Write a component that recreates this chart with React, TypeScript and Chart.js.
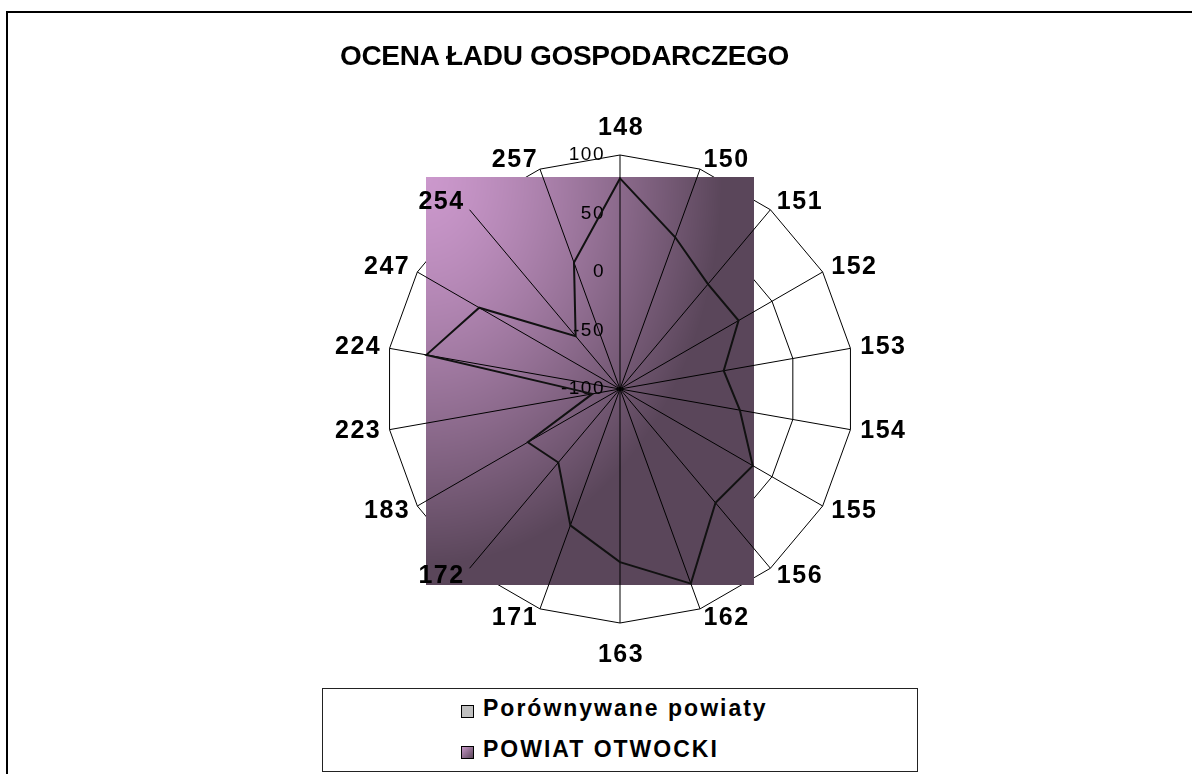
import React, { useEffect, useRef } from "react";
import { Chart, registerables } from "chart.js";

Chart.register(...registerables);

const title = "OCENA ŁADU GOSPODARCZEGO";
const categories = ["148", "150", "151", "152", "153", "154", "155", "156", "162", "163", "171", "172", "183", "223", "224", "247", "254", "257"];
const seriesNames = ["Porównywane powiaty", "POWIAT OTWOCKI"];
const comparedValues = [-100, -100, -100, -100, -100, -100, -100, -100, -100, -100, -100, -100, -100, -100, -100, -100, -100, -100];
const otwockValues = [80, 38, 17, 17, -10, 4, 31, 27, 77, 48, 24, -18, -9, -76, 68, 39, -41, 15];
const tickValues = [-100, -50, 0, 50, 100];

const FONT = '"Liberation Sans", Arial, Helvetica, sans-serif';

let bgCache: HTMLCanvasElement | null = null;
function makeBackground(w: number, h: number): HTMLCanvasElement {
  const c = document.createElement("canvas");
  c.width = w;
  c.height = h;
  const g = c.getContext("2d")!;
  const img = g.createImageData(w, h);
  const L = [203, 152, 204];
  const D = [90, 70, 90];
  for (let y = 0; y < h; y++) {
    for (let x = 0; x < w; x++) {
      const u = x / w / 0.9;
      const v = y / h / 0.95;
      let t = Math.min(1, Math.sqrt(u * u + v * v));
      t = Math.pow(t, 1.35);
      const k = (y * w + x) * 4;
      img.data[k] = L[0] + (D[0] - L[0]) * t;
      img.data[k + 1] = L[1] + (D[1] - L[1]) * t;
      img.data[k + 2] = L[2] + (D[2] - L[2]) * t;
      img.data[k + 3] = 255;
    }
  }
  g.putImageData(img, 0, 0);
  return c;
}

const plotPlugin = {
  id: "plotAreaDecor",
  beforeDatasetsDraw(chart: any) {
    const ctx = chart.ctx as CanvasRenderingContext2D;
    const r = chart.scales.r;
    const x0 = 426, y0 = 177, w = 328, h = 408;
    if (!bgCache) bgCache = makeBackground(w, h);
    ctx.save();
    ctx.drawImage(bgCache, x0, y0);

    // spokes
    ctx.strokeStyle = "#000";
    ctx.lineWidth = 1;
    categories.forEach((_, i) => {
      const p = r.getPointPosition(i, r.drawingArea);
      ctx.beginPath();
      ctx.moveTo(r.xCenter, r.yCenter);
      ctx.lineTo(p.x, p.y);
      ctx.stroke();
    });

    // tick labels
    ctx.fillStyle = "#000";
    ctx.font = `19px ${FONT}`;
    (ctx as any).letterSpacing = "1.5px";
    ctx.textAlign = "right";
    ctx.textBaseline = "middle";
    tickValues.forEach((v) => {
      const d = r.getDistanceFromCenterForValue(v);
      ctx.fillText(String(v), r.xCenter - 15, r.yCenter - d);
    });

    // point labels
    ctx.font = `bold 25px ${FONT}`;
    (ctx as any).letterSpacing = "1.5px";
    const n = categories.length;
    categories.forEach((c, i) => {
      const deg = Math.round((360 / n) * i);
      if (deg === 0 || deg === 180) {
        const p = r.getPointPosition(i, r.drawingArea + (deg === 0 ? 27 : 32));
        ctx.textAlign = "center";
        ctx.textBaseline = "middle";
        ctx.fillText(c, p.x + 1, p.y);
      } else {
        const p = r.getPointPosition(i, r.drawingArea + 10);
        ctx.textAlign = deg < 180 ? "left" : "right";
        ctx.textBaseline = "middle";
        ctx.fillText(c, deg < 180 ? p.x : p.x + 1.5, p.y);
      }
    });
    ctx.restore();
  },
};

export default function App() {
  const ref = useRef<HTMLCanvasElement | null>(null);

  useEffect(() => {
    if (!ref.current) return;
    const chart = new Chart(ref.current, {
      type: "radar",
      data: {
        labels: categories,
        datasets: [
          {
            label: seriesNames[0],
            data: comparedValues,
            borderColor: "#c0c0c0",
            backgroundColor: "#c0c0c0",
            borderWidth: 1,
            pointRadius: 0,
            fill: false,
          },
          {
            label: seriesNames[1],
            data: otwockValues,
            borderColor: "#111111",
            backgroundColor: "#111111",
            borderWidth: 2,
            pointRadius: 0,
            fill: false,
            tension: 0,
          },
        ],
      },
      options: {
        responsive: false,
        animation: false,
        devicePixelRatio: 1,
        layout: { padding: { left: 386, right: 338, top: 155, bottom: 151 } },
        plugins: {
          legend: { display: false },
          title: { display: false },
          tooltip: { enabled: false },
        },
        scales: {
          r: {
            min: -100,
            max: 100,
            ticks: { stepSize: 50, display: false },
            grid: { color: "#000", lineWidth: 1 },
            angleLines: { display: false },
            pointLabels: { display: false },
          },
        },
      },
      plugins: [plotPlugin],
    });
    return () => chart.destroy();
  }, []);

  return (
    <div style={{ position: "fixed", left: 0, top: 0, width: 1192, height: 774, overflow: "hidden", background: "#fff" }}>
      <div style={{ position: "absolute", left: 6, top: 11, width: 1300, height: 900, border: "2px solid #000" }} />
      <canvas ref={ref} width={1192} height={774} style={{ position: "absolute", left: 0, top: 0 }} />
      <div
        style={{
          position: "absolute",
          left: 0,
          top: 40,
          width: 1129,
          textAlign: "center",
          font: `bold 28px ${FONT}`,
          letterSpacing: "-0.3px",
          lineHeight: "normal",
          color: "#000",
          whiteSpace: "nowrap",
        }}
      >
        {title}
      </div>
      <div
        style={{
          position: "absolute",
          left: 322,
          top: 688,
          width: 596,
          height: 84,
          border: "1px solid #222",
          boxSizing: "border-box",
          background: "#fff",
        }}
      >
        {seriesNames.map((name, i) => (
          <div key={name} style={{ position: "absolute", left: 138, top: i === 0 ? 6 : 47, whiteSpace: "nowrap" }}>
            <span
              style={{
                position: "absolute",
                left: 0,
                top: 10,
                width: 13,
                height: 13,
                boxSizing: "border-box",
                border: "1px solid #000",
                background: i === 0 ? "#c0c0c0" : "linear-gradient(135deg, #c898c8, #5a465a)",
              }}
            />
            <span
              style={{
                position: "absolute",
                left: 22,
                top: 0,
                font: `bold 23px ${FONT}`,
                letterSpacing: "2px",
                color: "#000",
                lineHeight: "normal",
              }}
            >
              {name}
            </span>
          </div>
        ))}
      </div>
    </div>
  );
}
